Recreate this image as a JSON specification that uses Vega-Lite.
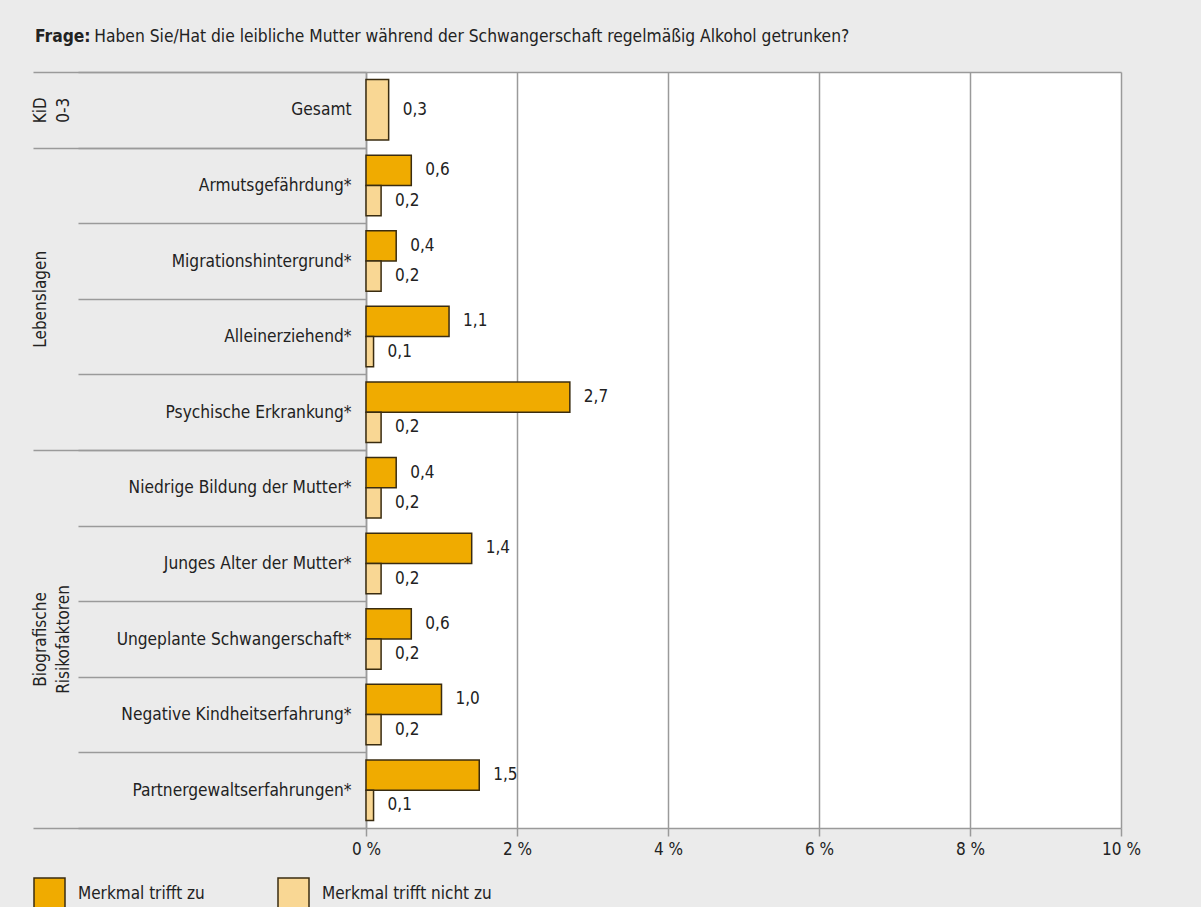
{
  "$schema": "https://vega.github.io/schema/vega-lite/v6.json",
  "width": 755,
  "height": 756,
  "autosize": {"type": "none"},
  "padding": {"left": 366, "top": 72, "right": 80, "bottom": 79},
  "background": "#ebebeb",
  "config": {
    "locale": {"number": {"decimal": ",", "thousands": ".", "grouping": [3], "currency": ["", " €"]}},
    "view": {"fill": "white", "stroke": null},
    "font": "DejaVu Sans Condensed",
    "axis": {"labelFont": "DejaVu Sans Condensed", "labelColor": "#222222"},
    "legend": {"labelFont": "DejaVu Sans Condensed"},
    "text": {"font": "DejaVu Sans Condensed"},
    "title": {"font": "DejaVu Sans Condensed", "subtitleFont": "DejaVu Sans Condensed"}
  },
  "title": {
    "text": "Frage:",
    "subtitle": "\u200c\u00a0\u00a0\u00a0\u00a0\u00a0\u00a0\u00a0\u00a0\u00a0\u00a0\u00a0\u00a0Haben Sie/Hat die leibliche Mutter während der Schwangerschaft regelmäßig Alkohol getrunken?",
    "anchor": "start",
    "frame": "group",
    "dx": -331,
    "offset": 18,
    "fontSize": 17.3,
    "fontWeight": "bold",
    "color": "#222222",
    "subtitleFontSize": 17.3,
    "subtitleColor": "#222222",
    "subtitlePadding": -17.3
  },
  "data": {
    "values": [
      {"cat": "Gesamt", "series": "Merkmal trifft nicht zu", "value": 0.3},
      {"cat": "Armutsgefährdung*", "series": "Merkmal trifft zu", "value": 0.6},
      {"cat": "Armutsgefährdung*", "series": "Merkmal trifft nicht zu", "value": 0.2},
      {"cat": "Migrationshintergrund*", "series": "Merkmal trifft zu", "value": 0.4},
      {"cat": "Migrationshintergrund*", "series": "Merkmal trifft nicht zu", "value": 0.2},
      {"cat": "Alleinerziehend*", "series": "Merkmal trifft zu", "value": 1.1},
      {"cat": "Alleinerziehend*", "series": "Merkmal trifft nicht zu", "value": 0.1},
      {"cat": "Psychische Erkrankung*", "series": "Merkmal trifft zu", "value": 2.7},
      {"cat": "Psychische Erkrankung*", "series": "Merkmal trifft nicht zu", "value": 0.2},
      {"cat": "Niedrige Bildung der Mutter*", "series": "Merkmal trifft zu", "value": 0.4},
      {"cat": "Niedrige Bildung der Mutter*", "series": "Merkmal trifft nicht zu", "value": 0.2},
      {"cat": "Junges Alter der Mutter*", "series": "Merkmal trifft zu", "value": 1.4},
      {"cat": "Junges Alter der Mutter*", "series": "Merkmal trifft nicht zu", "value": 0.2},
      {"cat": "Ungeplante Schwangerschaft*", "series": "Merkmal trifft zu", "value": 0.6},
      {"cat": "Ungeplante Schwangerschaft*", "series": "Merkmal trifft nicht zu", "value": 0.2},
      {"cat": "Negative Kindheitserfahrung*", "series": "Merkmal trifft zu", "value": 1.0},
      {"cat": "Negative Kindheitserfahrung*", "series": "Merkmal trifft nicht zu", "value": 0.2},
      {"cat": "Partnergewaltserfahrungen*", "series": "Merkmal trifft zu", "value": 1.5},
      {"cat": "Partnergewaltserfahrungen*", "series": "Merkmal trifft nicht zu", "value": 0.1}
    ]
  },
  "resolve": {"scale": {"y": "independent"}},
  "layer": [
    {
      "encoding": {
        "y": {
          "field": "cat", "type": "nominal",
          "scale": {"domain": ["Gesamt", "Armutsgefährdung*", "Migrationshintergrund*", "Alleinerziehend*", "Psychische Erkrankung*", "Niedrige Bildung der Mutter*", "Junges Alter der Mutter*", "Ungeplante Schwangerschaft*", "Negative Kindheitserfahrung*", "Partnergewaltserfahrungen*"], "paddingInner": 0, "paddingOuter": 0},
          "axis": {
            "orient": "left", "title": null, "domain": true, "domainColor": "#9a9a9a", "domainWidth": 1.5,
            "ticks": true, "tickBand": "extent", "tickSize": 288, "tickColor": "#9a9a9a", "tickWidth": 1.5,
            "labelPadding": -273, "labelFontSize": 17.2, "labelLimit": 400, "labelOverlap": false,
            "grid": true, "gridColor": "#9a9a9a", "gridWidth": 1.5,
            "gridOpacity": {"condition": {"test": "!isValid(datum.value)", "value": 1}, "value": 0}
          }
        },
        "x": {
          "field": "value", "type": "quantitative",
          "scale": {"domain": [0, 10]},
          "axis": {
            "title": null, "values": [0, 2, 4, 6, 8, 10], "labelExpr": "datum.value + ' %'",
            "grid": true, "gridColor": "#9a9a9a", "gridWidth": 1.5,
            "domain": true, "domainColor": "#9a9a9a", "domainWidth": 1.5,
            "tickSize": 8, "tickColor": "#9a9a9a", "tickWidth": 1.5,
            "labelFontSize": 17, "labelPadding": 5, "labelFlush": false
          }
        }
      },
      "layer": [
        {
          "transform": [{"filter": "datum.cat !== 'Gesamt'"}],
          "mark": {"type": "bar", "stroke": "#3a2c10", "strokeWidth": 1.5},
          "encoding": {
            "yOffset": {"field": "series", "type": "nominal", "scale": {"domain": ["Merkmal trifft zu", "Merkmal trifft nicht zu"], "paddingInner": 0, "paddingOuter": 0.25}},
            "fill": {
              "field": "series", "type": "nominal",
              "scale": {"domain": ["Merkmal trifft zu", "Merkmal trifft nicht zu"], "range": ["#f0ab00", "#f9d794"]},
              "legend": {
                "orient": "none", "legendX": -333, "legendY": 805, "direction": "horizontal", "title": null,
                "symbolType": "square", "symbolSize": 961, "symbolStrokeColor": "#3a2c10", "symbolStrokeWidth": 1.5,
                "labelFontSize": 17, "labelColor": "#222222", "labelOffset": 12, "labelLimit": 300, "columnPadding": 70
              }
            }
          }
        },
        {
          "transform": [{"filter": "datum.cat !== 'Gesamt'"}],
          "mark": {"type": "text", "align": "left", "baseline": "middle", "dx": 14, "fontSize": 17, "color": "#222222"},
          "encoding": {
            "yOffset": {"field": "series", "type": "nominal", "scale": {"domain": ["Merkmal trifft zu", "Merkmal trifft nicht zu"], "paddingInner": 0, "paddingOuter": 0.25}},
            "text": {"field": "value", "type": "quantitative", "format": ".1f"}
          }
        },
        {
          "transform": [{"filter": "datum.cat === 'Gesamt'"}],
          "mark": {"type": "bar", "stroke": "#3a2c10", "strokeWidth": 1.5, "height": {"band": 0.8}},
          "encoding": {
            "fill": {"field": "series", "type": "nominal"}
          }
        },
        {
          "transform": [{"filter": "datum.cat === 'Gesamt'"}],
          "mark": {"type": "text", "align": "left", "baseline": "middle", "dx": 14, "fontSize": 17, "color": "#222222"},
          "encoding": {
            "text": {"field": "value", "type": "quantitative", "format": ".1f"}
          }
        }
      ]
    },
    {
      "mark": {"type": "point", "opacity": 0},
      "encoding": {
        "y": {
          "field": "cat", "type": "nominal",
          "scale": {"domain": ["Gesamt", "Armutsgefährdung*", "Migrationshintergrund*", "Alleinerziehend*", "Psychische Erkrankung*", "Niedrige Bildung der Mutter*", "Junges Alter der Mutter*", "Ungeplante Schwangerschaft*", "Negative Kindheitserfahrung*", "Partnergewaltserfahrungen*"], "paddingInner": 0, "paddingOuter": 0},
          "axis": {
            "orient": "left", "title": null, "domain": false, "grid": false,
            "ticks": true, "tickBand": "extent", "tickSize": 333, "tickColor": "#9a9a9a", "tickWidth": 1.5,
            "tickOpacity": {"condition": {"test": "!isValid(datum.value) || datum.value === 'Gesamt' || datum.value === 'Psychische Erkrankung*' || datum.value === 'Partnergewaltserfahrungen*'", "value": 1}, "value": 0},
            "labelExpr": "datum.value === 'Gesamt' ? ['KiD', '0-3'] : datum.value === 'Alleinerziehend*' ? 'Lebenslagen' : datum.value === 'Ungeplante Schwangerschaft*' ? ['Biografische', 'Risikofaktoren'] : ''",
            "labelAngle": 270, "labelAlign": "center", "labelBaseline": "top", "labelPadding": 1,
            "labelFontSize": 17, "labelLineHeight": 23, "labelOverlap": false, "labelBound": false, "labelFlush": false,
            "labelOffset": {"condition": {"test": "datum.value === 'Alleinerziehend*'", "value": -37.8}, "value": 0}
          }
        }
      }
    }
  ]
}
